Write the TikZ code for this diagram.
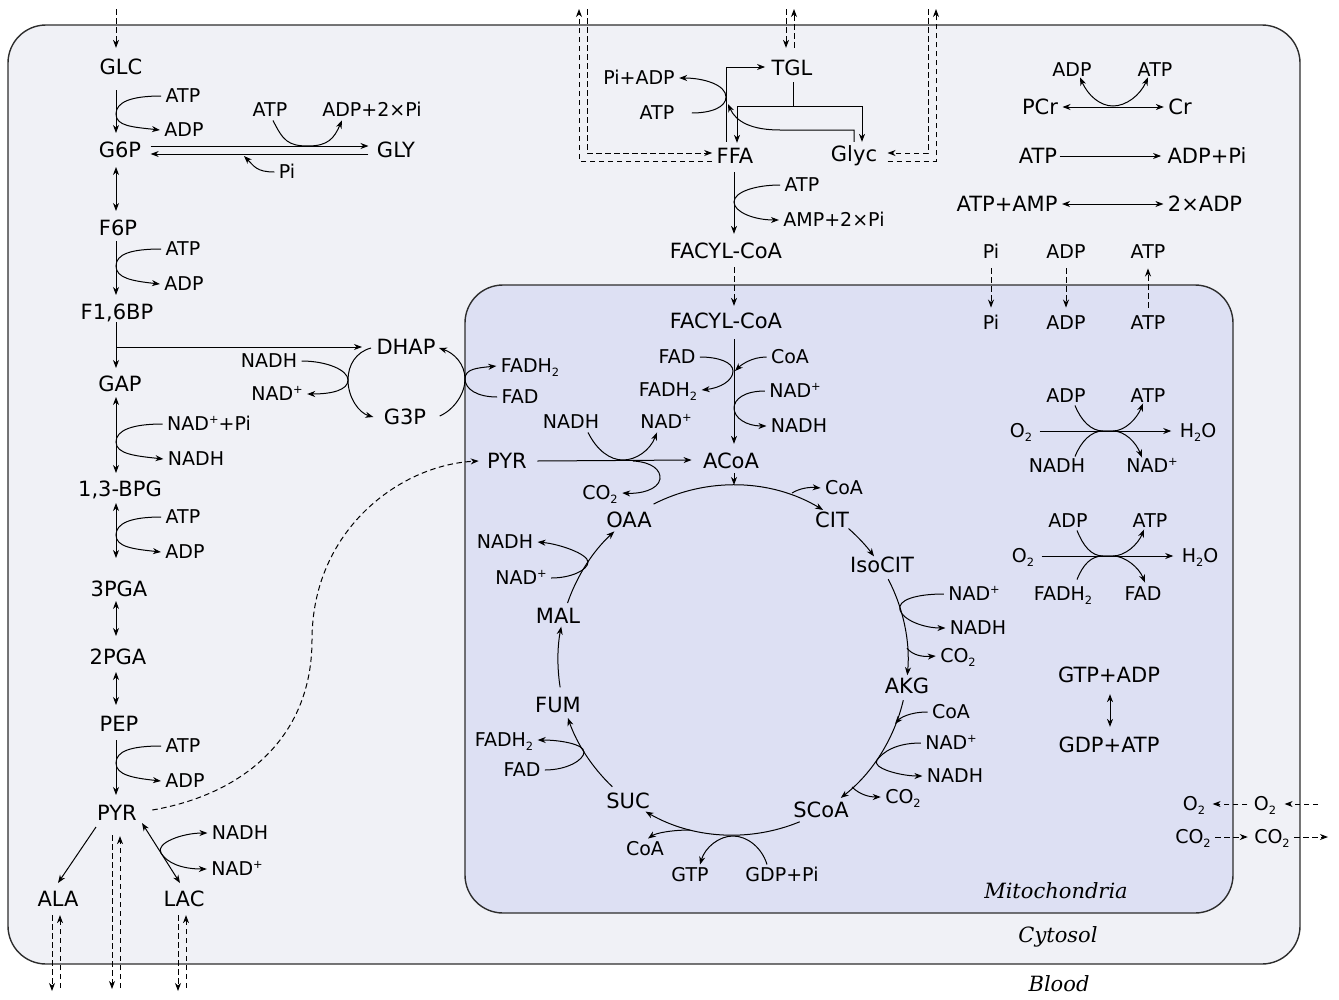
\documentclass[tikz,border=0pt]{standalone}
\usepackage{graphicx}
\usepackage{fontspec}
\setmainfont{DejaVu Sans}
\newfontfamily\compfont{DejaVu Serif}
\usetikzlibrary{arrows.meta,calc}
\newcommand{\mysb}[1]{\raisebox{-0.3ex}{\scalebox{0.6}{#1}}}
\newcommand{\mysp}[1]{\raisebox{0.75ex}{\scalebox{0.6}{#1}}}
\newcommand{\sidecurve}[3]{\draw[->] (#1.west) .. controls +(-30,0) and +(0,-12) .. (116,#3) .. controls +(0,12) and +(-28,-3) .. (#2.west);}
\definecolor{cytofill}{RGB}{240,241,246}
\definecolor{mitofill}{RGB}{221,224,243}
\definecolor{boxline}{RGB}{45,45,45}
\begin{document}
\begin{tikzpicture}[x=1pt,y=-1pt, line width=1pt,
 >={Stealth[length=8pt,width=6pt,inset=2.5pt]},
 big/.style={font=\fontsize{21}{24}\selectfont, text height=15.3pt, text depth=0pt, inner xsep=2pt, inner ysep=2pt},
 sm/.style={font=\fontsize{19}{22}\selectfont, text height=13.9pt, text depth=0pt, inner xsep=4pt, inner ysep=3pt},
 comp/.style={font=\fontsize{21}{24}\compfont\itshape, text height=15.3pt, text depth=0pt, inner sep=0pt},
 dsh/.style={dash pattern=on 5.5pt off 3.5pt},
 box/.style={draw=boxline, line width=1.4pt, rounded corners=38pt}]
\useasboundingbox (0,0) rectangle (1339,999);
% compartments
\path[box, fill=cytofill] (8,25) rectangle (1300,964);
\path[box, fill=mitofill] (465,285) rectangle (1233,913);
\node[comp] (mitolbl) at (1056,891) {Mitochondria};
\node[comp] (cytolbl) at (1058,935) {Cytosol};
\node[comp] (bloodlbl) at (1059,984) {Blood};

% ---------- glycolysis nodes
\node[big] (GLC) at (121,67) {GLC};
\node[big] (G6P) at (120,150) {G6P};
\node[big] (F6P) at (118,228) {F6P};
\node[big] (F16BP) at (117,312) {F1,6BP};
\node[big] (GAP) at (120,384) {GAP};
\node[big] (BPG) at (120,489) {1,3-BPG};
\node[big] (PGAc) at (119,589) {3PGA};
\node[big] (PGAb) at (118,657) {2PGA};
\node[big] (PEP) at (119,724) {PEP};
\node[big] (PYR) at (117,813) {PYR};
\node[big] (ALA) at (58,899) {ALA};
\node[big] (LAC) at (184,899) {LAC};
\node[big] (GLY) at (396,150) {GLY};
\node[big] (DHAP) at (406,347) {DHAP};
\node[big] (G3P) at (405,417) {G3P};

\node[sm] (atpA) at (183,96) {ATP};
\node[sm] (adpA) at (184,130) {ADP};
\node[sm] (atpG) at (270,110) {ATP};
\node[sm] (adpG) at (372,110) {ADP+2×Pi};
\node[sm] (piG) at (287,172) {Pi};
\node[sm] (atpB) at (183,249) {ATP};
\node[sm] (adpB) at (184,284) {ADP};
\node[sm] (nadhC) at (269,361) {NADH};
\node[sm] (nadC) at (277,394) {NAD\mysp{+}};
\node[sm] (nadpi) at (209,424) {NAD\mysp{+}+Pi};
\node[sm] (nadhD) at (196,459) {NADH};
\node[sm] (atpE) at (183,517) {ATP};
\node[sm] (adpE) at (185,552) {ADP};
\node[sm] (atpF) at (183,746) {ATP};
\node[sm] (adpF) at (185,781) {ADP};
\node[sm] (nadhL) at (240,833) {NADH};
\node[sm] (nadL) at (237,869) {NAD\mysp{+}};
\node[sm] (fadh2D) at (530,366) {FADH\mysb{2}};
\node[sm] (fadD) at (520,397) {FAD};

% ---------- lipid nodes
\node[big] (TGL) at (792,68) {TGL};
\node[big] (FFA) at (735,156) {FFA};
\node[big] (Glyc) at (854,154) {Glyc};
\node[sm] (piadp) at (639,78) {Pi+ADP};
\node[sm] (atpT) at (657,113) {ATP};
\node[sm] (atpH) at (802,185) {ATP};
\node[sm] (ampH) at (834,220) {AMP+2×Pi};
\node[big] (FACYLc) at (726,251) {FACYL-CoA};

% ---------- energy nodes
\node[sm] (adpR) at (1072,70) {ADP};
\node[sm] (atpR) at (1155,70) {ATP};
\node[big] (PCr) at (1040,107) {PCr};
\node[big] (Cr) at (1180,107) {Cr};
\node[big] (atpX) at (1038,156) {ATP};
\node[big] (adppi) at (1207,156) {ADP+Pi};
\node[big] (atpamp) at (1007,204) {ATP+AMP};
\node[big] (adp2) at (1205,204) {2×ADP};
\node[sm] (piC) at (991,252) {Pi};
\node[sm] (adpC) at (1066,252) {ADP};
\node[sm] (atpC) at (1148,252) {ATP};
\node[sm] (piM) at (991,323) {Pi};
\node[sm] (adpM) at (1066,323) {ADP};
\node[sm] (atpM) at (1148,323) {ATP};

\node[sm] (adpO1) at (1066,396) {ADP};
\node[sm] (atpO1) at (1148,396) {ATP};
\node[sm] (o2a) at (1021,431) {O\mysb{2}};
\node[sm] (h2oa) at (1198,431) {H\mysb{2}O};
\node[sm] (nadhO) at (1057,466) {NADH};
\node[sm] (nadO) at (1152,466) {NAD\mysp{+}};
\node[sm] (adpO2) at (1068,521) {ADP};
\node[sm] (atpO2) at (1150,521) {ATP};
\node[sm] (o2b) at (1023,556) {O\mysb{2}};
\node[sm] (h2ob) at (1200,556) {H\mysb{2}O};
\node[sm] (fadh2O) at (1063,594) {FADH\mysb{2}};
\node[sm] (fadO) at (1143,594) {FAD};
\node[big] (gtpadp) at (1109,675) {GTP+ADP};
\node[big] (gdpatp) at (1109,745) {GDP+ATP};
\node[sm] (o2m) at (1194,804) {O\mysb{2}};
\node[sm] (o2c) at (1265,804) {O\mysb{2}};
\node[sm] (co2m) at (1193,837) {CO\mysb{2}};
\node[sm] (co2c) at (1272,837) {CO\mysb{2}};

% ---------- mitochondrial nodes
\node[big] (FACYLm) at (726,321) {FACYL-CoA};
\node[sm] (fadB) at (677,357) {FAD};
\node[sm] (coaB) at (790,357) {CoA};
\node[sm] (fadh2B) at (668,390) {FADH\mysb{2}};
\node[sm] (nadB) at (795,391) {NAD\mysp{+}};
\node[sm] (nadhB) at (799,426) {NADH};
\node[sm] (nadhP) at (571,422) {NADH};
\node[sm] (nadP) at (666,422) {NAD\mysp{+}};
\node[big] (PYRm) at (507,461) {PYR};
\node[big] (ACoA) at (731,461) {ACoA};
\node[sm] (co2P) at (600,493) {CO\mysb{2}};
\node[big] (OAA) at (629,520) {OAA};
\node[big] (CIT) at (832,520) {CIT};
\node[sm] (coaCS) at (844,488) {CoA};
\node[big] (IsoCIT) at (882,565) {IsoCIT};
\node[sm] (nadI) at (974,594) {NAD\mysp{+}};
\node[sm] (nadhI) at (978,628) {NADH};
\node[sm] (co2I) at (958,656) {CO\mysb{2}};
\node[big] (AKG) at (907,686) {AKG};
\node[sm] (coaK) at (951,712) {CoA};
\node[sm] (nadK) at (951,743) {NAD\mysp{+}};
\node[sm] (nadhK) at (955,776) {NADH};
\node[sm] (co2K) at (903,797) {CO\mysb{2}};
\node[big] (SCoA) at (821,810) {SCoA};
\node[big] (SUC) at (628,801) {SUC};
\node[sm] (coaS) at (645,849) {CoA};
\node[sm] (gtpS) at (690,875) {GTP};
\node[sm] (gdpS) at (782,875) {GDP+Pi};
\node[big] (FUM) at (558,705) {FUM};
\node[sm] (fadh2F) at (504,740) {FADH\mysb{2}};
\node[sm] (fadF) at (522,770) {FAD};
\node[big] (MAL) at (558,616) {MAL};
\node[sm] (nadhM) at (505,542) {NADH};
\node[sm] (nadM) at (521,578) {NAD\mysp{+}};

% ---------- glycolysis connectors
\draw[->] ($(GLC)+(-5,23)$) -- ($(G6P)+(-4,-17)$);
\draw[<->] ($(G6P)+(-4,17)$) -- ($(F6P)+(-2,-17)$);
\draw[->] ($(F6P)+(-2,13)$) -- ($(F16BP)+(-1,-17)$);
\draw[->] ($(F16BP)+(-1,10)$) -- ($(GAP)+(-4,-16)$);
\draw[->] (116,347) -- ($(DHAP.west)+(-12,0)$);
\draw[<->] ($(GAP)+(-4,13)$) -- ($(BPG)+(-4,-16)$);
\draw[<->] ($(BPG)+(-4,14)$) -- ($(PGAc)+(-3,-31)$);
\draw[<->] ($(PGAc)+(-3,12)$) -- ($(PGAb)+(-2,-21)$);
\draw[<->] ($(PGAb)+(-2,15)$) -- ($(PEP)+(-3,-19)$);
\draw[->] ($(PEP)+(-3,16)$) -- ($(PYR)+(-1,-18)$);
\draw[->] ($(PYR)+(-21,14)$) -- ($(ALA)+(0,-16)$);
\draw[<->] ($(PYR)+(25,10)$) -- ($(LAC)+(-4,-16)$);
\sidecurve{atpA}{adpA}{114}
\sidecurve{atpB}{adpB}{266}
\sidecurve{nadpi}{nadhD}{442}
\sidecurve{atpE}{adpE}{535}
\sidecurve{atpF}{adpF}{763}
\draw[<->] (nadhL.west) .. controls +(-25,0) and +(-6,-10) .. (161,853) .. controls +(6,10) and +(-25,0) .. (nadL.west);
% glycogen
\draw[->] ($(G6P.east)+(7,-4)$) -- ($(GLY.west)+(-6,-4)$);
\draw[->] ($(GLY.west)+(-6,4)$) -- ($(G6P.east)+(7,4)$);
\draw[->] ($(atpG.south)+(3,0)$) .. controls +(10,20) and +(-20,0) .. (308,146) .. controls +(20,0) and +(-8,18) .. ($(adpG.south)+(-30,0)$);
\draw[->] (piG.west) .. controls +(-18,0) and +(10,10) .. (244,156);
% glycerol phosphate shuttle
\draw[->] (nadhC.east) .. controls +(25,0) and +(0,-10) .. (348,380) .. controls +(0,10) and +(25,0) .. (nadC.east);
\draw[->] ($(DHAP.west)+(-3,1)$) .. controls +(-15,4) and +(0,-15) .. (348,380) .. controls +(0,18) and +(-14,-4) .. ($(G3P.west)+(-8,0)$);
\draw[->] ($(G3P.east)+(11,-1)$) .. controls +(14,-6) and +(0,15) .. (465,379) .. controls +(0,-15) and +(15,5) .. ($(DHAP.east)+(1,1)$);
\draw[->] (fadD.west) .. controls +(-20,0) and +(0,10) .. (465,379) .. controls +(0,-10) and +(-20,2) .. (fadh2D.west);
% pyruvate transport
\draw[dsh,->] ($(PYR.east)+(13,-3)$) .. controls (240,795) and (312,740) .. (312,640) .. controls (312,530) and (400,465) .. ($(PYRm.west)+(-6,0)$);
% blood exchange
\draw[dsh,->] (116,9) -- ($(GLC.north)+(-5,-9)$);
\draw[dsh,->] ($(ALA.south)+(-6,6)$) -- (52,991);
\draw[dsh,->] (60,988) -- ($(ALA.south)+(2,6)$);
\draw[dsh,->] ($(PYR.south)+(-5,12)$) -- (112,989);
\draw[dsh,->] (120,988) -- ($(PYR.south)+(3,13)$);
\draw[dsh,->] ($(LAC.south)+(-6,6)$) -- (178,991);
\draw[dsh,->] (186,988) -- ($(LAC.south)+(2,6)$);

% ---------- lipid connectors
\coordinate (split) at (793,106);
\draw[->] ($(FFA.north)+(-9,-4)$) |- ($(TGL.west)+(-4,-1)$);
\draw ($(TGL.south)+(1,4)$) -- (split);
\draw[->] (split) -| ($(FFA.north)+(2,-3)$);
\draw[->] (split) -| ($(Glyc.north)+(8,-2)$);
\draw[->] ($(Glyc.north)+(0,-2)$) -- (854,130) -- (780,130) .. controls (752,130) and (736,122) .. (728,104);
\draw[->] ($(atpT.east)+(13,0)$) .. controls +(20,0) and +(0,10) .. (726,97) .. controls +(0,-12) and +(25,0) .. (piadp.east);
\draw[dsh,->] ($(FFA.west)+(-2,5)$) -| (579,9);
\draw[dsh,->] (587,9) |- ($(FFA.west)+(-2,-3)$);
\draw[dsh,->] (928,9) |- ($(Glyc.east)+(8,-1)$);
\draw[dsh,->] ($(Glyc.east)+(8,7)$) -| (936,9);
\draw[dsh,->] (786,9) -- ($(TGL.north)+(-6,-10)$);
\draw[dsh,->] ($(TGL.north)+(2,-10)$) -- (794,9);
\draw[->] ($(FFA.south)+(-1,6)$) -- ($(FACYLc.north)+(8,-7)$);
\draw[->] (atpH.west) .. controls +(-25,0) and +(0,-10) .. (734,202) .. controls +(0,10) and +(-25,0) .. (ampH.west);
\draw[dsh,->] ($(FACYLc.south)+(8,6)$) -- ($(FACYLm.north)+(8,-5)$);

% ---------- energy connectors
\draw[<->] ($(PCr.east)+(2,0)$) -- ($(Cr.west)+(-2,0)$);
\draw[<->] ($(adpR.south)+(8,-3)$) .. controls +(8,18) and +(-13,0) .. (1113,106) .. controls +(13,0) and +(-8,18) .. ($(atpR.south)+(-7,-3)$);
\draw[->] (atpX.east) -- ($(adppi.west)+(-4,0)$);
\draw[<->] ($(atpamp.east)+(2,0)$) -- ($(adp2.west)+(-2,0)$);
\draw[dsh,->] ($(piC.south)+(0,6)$) -- ($(piM.north)+(0,-5)$);
\draw[dsh,->] ($(adpC.south)+(0,6)$) -- ($(adpM.north)+(0,-5)$);
\draw[dsh,->] ($(atpM.north)+(0,-5)$) -- ($(atpC.south)+(0,6)$);
\draw[->] ($(o2a.east)+(3,0)$) -- ($(h2oa.west)+(-4,0)$);
\draw[->] ($(adpO1.south)+(9,-1)$) .. controls +(6,15) and +(-12,0) .. (1103,431) -- (1113,431) .. controls +(12,0) and +(-6,15) .. ($(atpO1.south)+(-5,-3)$);
\draw[->] ($(nadhO.north)+(18,1)$) .. controls +(6,-15) and +(-12,0) .. (1103,431) -- (1113,431) .. controls +(12,0) and +(-6,-15) .. ($(nadO.north)+(-10,2)$);
\draw[->] ($(o2b.east)+(3,0)$) -- ($(h2ob.west)+(-4,0)$);
\draw[->] ($(adpO2.south)+(9,-1)$) .. controls +(6,15) and +(-12,0) .. (1103,556) -- (1113,556) .. controls +(12,0) and +(-6,15) .. ($(atpO2.south)+(-6,-2)$);
\draw[->] ($(fadh2O.north)+(14,-4)$) .. controls +(6,-15) and +(-12,0) .. (1103,556) -- (1113,556) .. controls +(12,0) and +(-6,-15) .. ($(fadO.north)+(2,-1)$);
\draw[<->] ($(gtpadp.south)+(1,9)$) -- ($(gdpatp.north)+(1,-8)$);
\draw[dsh,->] ($(o2c.west)+(-2,0)$) -- ($(o2m.east)+(3,0)$);
\draw[dsh,->] (1318,804) -- ($(o2c.east)+(4,0)$);
\draw[dsh,->] (co2m.east) -- ($(co2c.west)+(-2,0)$);
\draw[dsh,->] (co2c.east) -- (1328,837);

% ---------- mitochondrial connectors
\draw[->] ($(FACYLm.south)+(8,8)$) -- ($(ACoA.north)+(3,-7)$);
\draw[->] (fadB.east) .. controls +(18,0) and +(0,-9) .. (733,371) .. controls +(0,10) and +(18,-2) .. (fadh2B.east);
\draw[->] (coaB.west) .. controls +(-15,0) and +(6,-6) .. (735,371);
\draw[->] (nadB.west) .. controls +(-20,0) and +(0,-9) .. (734,408) .. controls +(0,10) and +(-20,0) .. (nadhB.west);
\draw[->] ($(PYRm.east)+(8,0)$) -- ($(ACoA.west)+(-9,-1)$);
\draw[->] ($(nadhP.south)+(17,0)$) .. controls +(9,18) and +(-13,0) .. (623,460) .. controls +(13,0) and +(-7,18) .. ($(nadP.south)+(-9,0)$);
\draw[->] (633,461) .. controls (652,462) and (661,470) .. (660,479) .. controls (658,490) and (640,494) .. (co2P.east);
\draw[->] ($(ACoA.south)+(3,2)$) -- (734,485);
% TCA cycle
\coordinate (tca) at (733,660);
\draw[->] ($(tca)+(-117:175)$) arc[start angle=-117, end angle=-59, radius=175];
\draw[->] ($(tca)+(-48.7:175)$) arc[start angle=-48.7, end angle=-36.3, radius=175];
\draw[->] ($(tca)+(-27.5:175)$) arc[start angle=-27.5, end angle=5, radius=175];
\draw[->] ($(tca)+(13.3:175)$) arc[start angle=13.3, end angle=52, radius=175];
\draw[->] ($(tca)+(67.6:175)$) arc[start angle=67.6, end angle=120, radius=175];
\draw[->] ($(tca)+(133.6:175)$) arc[start angle=133.6, end angle=160.7, radius=175];
\draw[->] ($(tca)+(171:175)$) arc[start angle=171, end angle=191, radius=175];
\draw[->] ($(tca)+(199:175)$) arc[start angle=199, end angle=227.3, radius=175];
\draw[->] (792,493) .. controls (800,488) and (810,487) .. (coaCS.west);
\draw[->] (nadI.west) .. controls +(-28,0) and +(-3,-10) .. (900,610) .. controls +(3,10) and +(-22,0) .. (nadhI.west);
\draw[->] (907,648) .. controls (912,655) and (922,657) .. (co2I.west);
\draw[->] (coaK.west) .. controls +(-18,0) and +(5,-6) .. (895,724);
\draw[->] (nadK.west) .. controls +(-25,0) and +(6,-8) .. (877,760) .. controls +(-6,8) and +(-22,0) .. (nadhK.west);
\draw[->] (852,787) .. controls (860,795) and (870,797) .. (co2K.west);
\draw[->] (690,830) .. controls (672,830) and (656,833) .. ($(coaS.north)+(3,0)$);
\draw[->] ($(gdpS.north)+(-15,0)$) .. controls +(-5,-17) and +(14,0) .. (733,836) .. controls +(-14,0) and +(5,-17) .. ($(gtpS.north)+(10,0)$);
\draw[->] (fadF.east) .. controls +(22,0) and +(0,8) .. (584,752) .. controls +(0,-8) and +(22,0) .. (fadh2F.east);
\draw[->] (nadM.east) .. controls +(20,0) and +(0,8) .. (588,562) .. controls +(0,-8) and +(22,2) .. (nadhM.east);
\end{tikzpicture}
\end{document}
